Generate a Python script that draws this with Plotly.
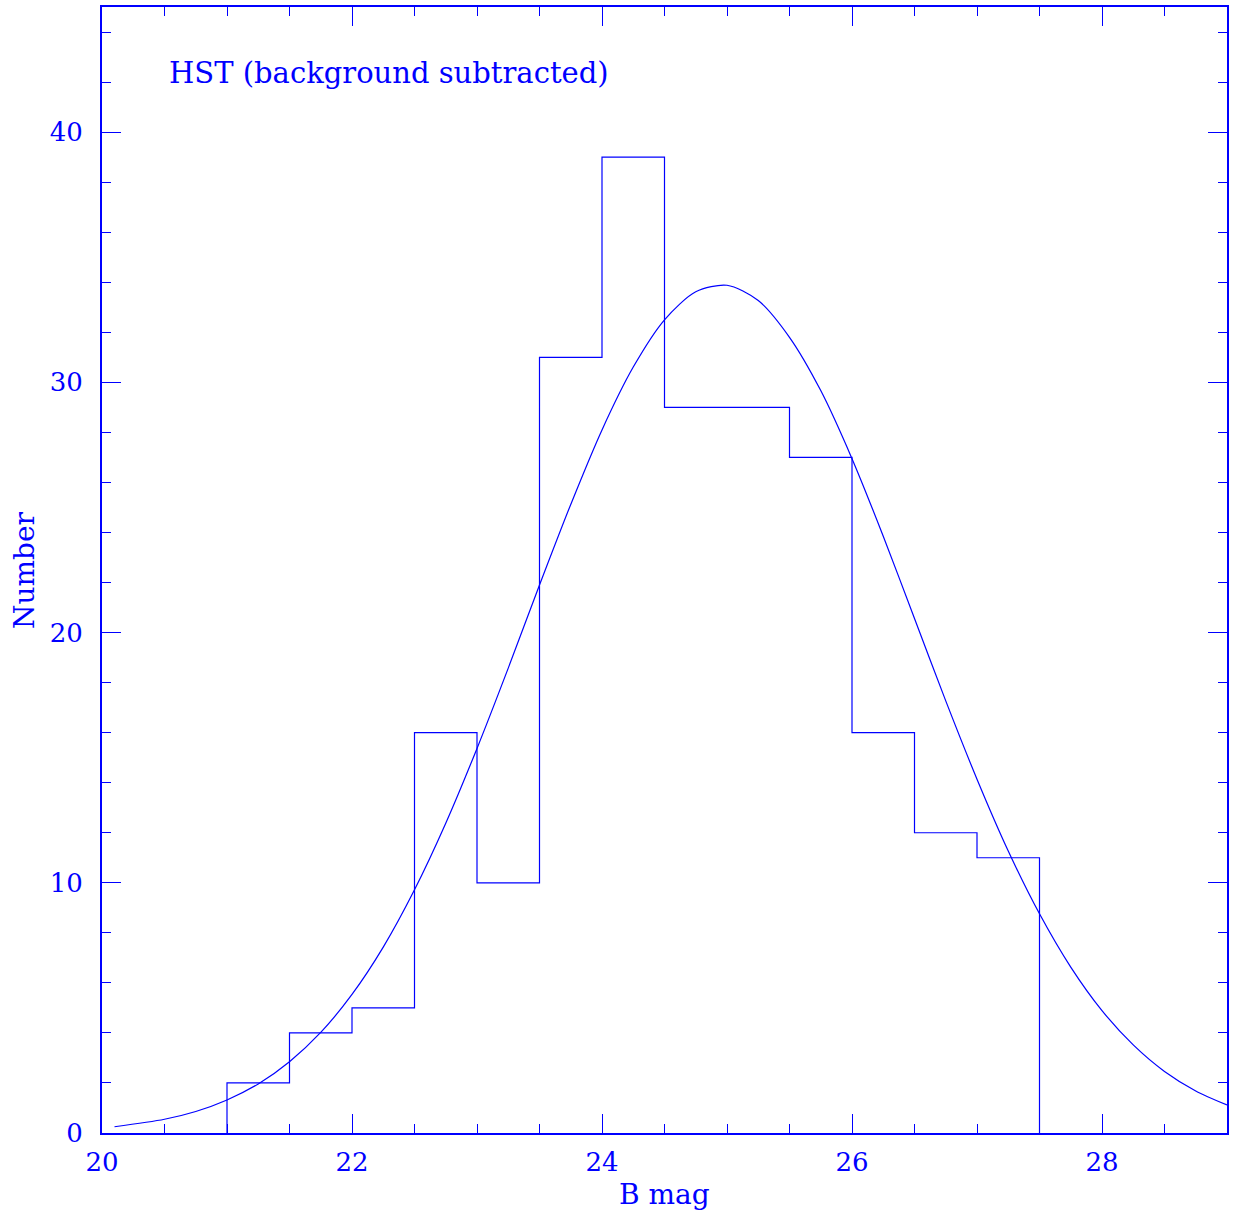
import plotly.graph_objects as go

BLUE = "#0000ff"
FONT = "DejaVu Serif"

# Histogram (bin left edges, bin width 0.5) and counts
bin_left = [21.0, 21.5, 22.0, 22.5, 23.0, 23.5, 24.0, 24.5, 25.0, 25.5, 26.0, 26.5, 27.0]
counts = [2, 4, 5, 16, 10, 31, 39, 29, 29, 27, 16, 12, 11]
bin_width = 0.5

# Fitted curve, values
curve_x = [20.1, 20.5, 20.75, 21.0, 21.25, 21.5, 21.75, 22.0, 22.25, 22.5, 22.75,
           23.0, 23.25, 23.5, 23.75, 24.0, 24.25, 24.5, 24.75, 25.0, 25.25,
           25.5, 25.75, 26.0, 26.25, 26.5, 26.75, 27.0, 27.25, 27.5, 27.75,
           28.0, 28.25, 28.5, 28.75, 29.0]
curve_y = [0.25, 0.55, 0.86, 1.32, 1.96, 2.85, 4.02, 5.54, 7.43, 9.72, 12.38,
           15.37, 18.58, 21.9, 25.12, 28.1, 30.61, 32.5, 33.62, 33.88, 33.27,
           31.8, 29.67, 26.95, 23.85, 20.56, 17.27, 14.14, 11.27, 8.76, 6.63,
           4.89, 3.52, 2.46, 1.68, 1.12]

x_ticks = [20, 22, 24, 26, 28]
y_ticks = [0, 10, 20, 30, 40]

hx = [bin_left[0]] + bin_left + [bin_left[-1] + bin_width]
hy = [0] + counts + [0]

fig = go.Figure()
fig.add_trace(go.Scatter(x=hx, y=hy, mode="lines", line=dict(shape="hv", color=BLUE, width=1.2),
                         showlegend=False, hoverinfo="skip"))
fig.add_trace(go.Scatter(x=curve_x, y=curve_y, mode="lines",
                         line=dict(shape="spline", smoothing=0.8, color=BLUE, width=1.2),
                         showlegend=False, hoverinfo="skip"))

axis_common = dict(
    showgrid=False, zeroline=False, showline=True, linecolor=BLUE, linewidth=2,
    mirror="ticks", ticks="inside", ticklen=19, tickwidth=1.3, tickcolor=BLUE,
    tickfont=dict(family=FONT, size=26, color=BLUE),
)

fig.update_xaxes(range=[20, 29], tickvals=x_ticks, ticktext=[str(v) for v in x_ticks],
                 minor=dict(dtick=0.5, tick0=20, ticks="inside", ticklen=9, tickwidth=1.3, tickcolor=BLUE),
                 ticklabelstandoff=5, **axis_common)
fig.update_yaxes(range=[0, 45], tickvals=y_ticks, ticktext=[str(v) for v in y_ticks],
                 minor=dict(dtick=2, tick0=0, ticks="inside", ticklen=9, tickwidth=1.3, tickcolor=BLUE),
                 ticklabelstandoff=12, **axis_common)

fig.add_annotation(x=20.52, y=42.36, xref="x", yref="y", text="HST (background subtracted)",
                   showarrow=False, xanchor="left", yanchor="middle",
                   font=dict(family=FONT, size=29, color=BLUE))
fig.add_annotation(x=0.5, y=-0.055, xref="paper", yref="paper", text="B mag",
                   showarrow=False, xanchor="center", yanchor="middle",
                   font=dict(family=FONT, size=28, color=BLUE))
fig.add_annotation(x=-0.0693, y=0.5, xref="paper", yref="paper", text="Number",
                   showarrow=False, xanchor="center", yanchor="middle", textangle=-90,
                   font=dict(family=FONT, size=28, color=BLUE))

fig.update_layout(
    width=1233, height=1220,
    margin=dict(l=102, r=4, t=7, b=87),
    paper_bgcolor="white", plot_bgcolor="white",
    showlegend=False,
)

fig.write_html("out.html")
